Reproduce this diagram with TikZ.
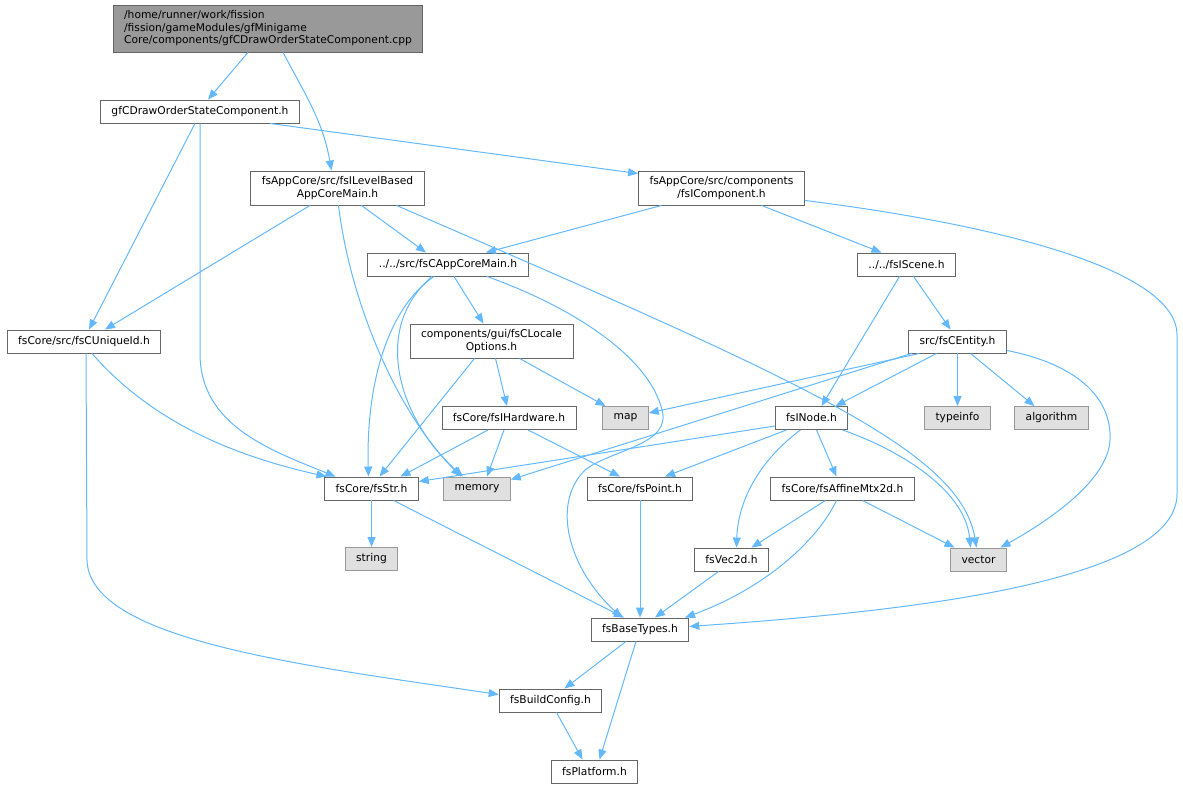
\documentclass[tikz,border=0pt]{standalone}
\usepackage{fontspec}
\setmainfont{DejaVu Sans}
\usetikzlibrary{arrows.meta}
\definecolor{boxline}{HTML}{666666}
\definecolor{rootfill}{HTML}{999999}
\definecolor{sysline}{HTML}{999999}
\definecolor{sysfill}{HTML}{E0E0E0}
\definecolor{deplink}{HTML}{63B8FF}

\begin{document}
\begin{tikzpicture}[
x=1pt, y=-1pt,
file/.style={
  draw=boxline,
  fill=white,
  line width=0.9pt,
  rectangle,
  inner xsep=11pt,
  inner ysep=3pt,
  minimum height=23pt,
  align=center,
  font=\fontsize{10.7}{12.5}\selectfont
  },
main/.style={
  file,
  fill=rootfill,
  align=left,
  minimum height=47pt
  },
sys/.style={
  file,
  draw=sysline,
  fill=sysfill
  },
twoline/.style={
  minimum height=34pt
  },
dep/.style={
  draw=deplink,
  line width=1pt,
  -{Triangle[length=10pt,width=8pt]}
  }
]
\useasboundingbox (0,0) rectangle (1183,788);

\node[main] (root) at (268,28.5) {/home/runner/work/fission\\/fission/gameModules/gfMinigame\\Core/components/gfCDrawOrderStateComponent.cpp};
\node[file] (drawcomp) at (200,111.5) {gfCDrawOrderStateComponent.h};
\node[file,twoline] (levelmain) at (337.5,188) {fsAppCore/src/fsILevelBased\\AppCoreMain.h};
\node[file,twoline] (icomp) at (721.5,188) {fsAppCore/src/components\\/fsIComponent.h};
\node[file] (appmain) at (448,264.5) {../../src/fsCAppCoreMain.h};
\node[file] (iscene) at (906.5,264.5) {../../fsIScene.h};
\node[file] (uniqueid) at (84,341.5) {fsCore/src/fsCUniqueId.h};
\node[file,twoline] (locale) at (491.5,341) {components/gui/fsCLocale\\Options.h};
\node[file] (entity) at (957.5,341.5) {src/fsCEntity.h};
\node[file] (hardware) at (509,418) {fsCore/fsIHardware.h};
\node[sys] (map) at (625.5,418) {map};
\node[file] (inode) at (811.5,418) {fsINode.h};
\node[sys] (typeinfo) at (957.5,418) {typeinfo};
\node[sys] (algorithm) at (1051.5,418) {algorithm};
\node[file] (fsstr) at (371.5,488.5) {fsCore/fsStr.h};
\node[sys] (memory) at (477,488.5) {memory};
\node[file] (fspoint) at (640,488.5) {fsCore/fsPoint.h};
\node[file] (affine) at (842.5,488.5) {fsCore/fsAffineMtx2d.h};
\node[sys] (string) at (371.5,559) {string};
\node[file] (vec2d) at (731.5,559.5) {fsVec2d.h};
\node[sys] (vector) at (978.5,559.5) {vector};
\node[file] (basetypes) at (640,629.5) {fsBaseTypes.h};
\node[file] (buildcfg) at (550.5,700.5) {fsBuildConfig.h};
\node[file] (platform) at (594.5,771.5) {fsPlatform.h};

\draw[dep] ([xshift=-20pt]root.south) -- ([xshift=8pt]drawcomp.north);
\draw[dep] ([xshift=15pt]root.south) to[out=-62,in=100] ([xshift=-6pt]levelmain.north);
\draw[dep] ([xshift=70pt]drawcomp.south) -- ([yshift=-3pt]icomp.north west);
\draw[dep] ([xshift=-5pt]drawcomp.south) -- ([xshift=5pt]uniqueid.north);
\draw[dep] (drawcomp.south) -- ++(0,230) to[out=-90,in=158] ([xshift=-36pt]fsstr.north);
\draw[dep] ([xshift=-27.5pt]levelmain.south) -- ([xshift=21pt]uniqueid.north);
\draw[dep] ([xshift=24pt]levelmain.south) -- ([xshift=-22pt]appmain.north);
\draw[dep] ([xshift=1pt]levelmain.south) .. controls (350,300) and (395,410) .. ([xshift=-16pt]memory.north);
\draw[dep] ([xshift=59pt]levelmain.south) .. controls (800,380) and (960,450) .. ([xshift=-2pt]vector.north);
\draw[dep] ([xshift=-60pt]icomp.south) -- ([xshift=38pt]appmain.north);
\draw[dep] ([xshift=40pt]icomp.south) -- ([xshift=-25pt]iscene.north);
\draw[dep] ([yshift=5pt]icomp.south east) .. controls (1000,225) and (1177,270) .. (1177,335)
  -- (1177,494) .. controls (1177,590) and (850,615) .. ([yshift=3pt]basetypes.east);
\draw[dep] ([xshift=6pt]appmain.south) -- ([xshift=-8pt]locale.north);
\draw[dep] ([xshift=-14pt]appmain.south) .. controls (385,310) and (366,390) .. ([xshift=-3pt]fsstr.north);
\draw[dep] ([xshift=-16pt]appmain.south) .. controls (370,330) and (400,420) .. ([xshift=-14pt]memory.north);
\draw[dep] ([xshift=39pt]appmain.south) .. controls (580,310) and (650,360) .. (662,410)
  .. controls (672,445) and (610,450) .. (585,470)
  .. controls (550,505) and (570,570) .. ([xshift=-18pt]basetypes.north);
\draw[dep] ([xshift=7pt]iscene.south) -- ([xshift=-7pt]entity.north);
\draw[dep] ([xshift=-7pt]iscene.south) -- ([xshift=10pt]inode.north);
\draw[dep] ([xshift=8pt]uniqueid.south) .. controls (150,420) and (230,455) .. ([xshift=-45pt]fsstr.north);
\draw[dep] ([xshift=2pt]uniqueid.south) -- ++(1,207) .. controls (90,640) and (300,665) .. ([yshift=6pt]buildcfg.west);
\draw[dep] ([xshift=-17pt]locale.south) -- ([xshift=8pt]fsstr.north);
\draw[dep] ([xshift=4pt]locale.south) -- ([xshift=-2pt]hardware.north);
\draw[dep] ([xshift=28pt]locale.south) -- ([xshift=-20pt]map.north);
\draw[dep] ([xshift=-38pt]entity.south) -- ([yshift=5pt]map.east);
\draw[dep] ([xshift=-46pt]entity.south) -- ([yshift=-3pt]memory.north east);
\draw[dep] ([xshift=-21pt]entity.south) -- ([xshift=24pt]inode.north);
\draw[dep] (entity.south) -- (typeinfo.north);
\draw[dep] ([xshift=13pt]entity.south) -- ([xshift=-17pt]algorithm.north);
\draw[dep] ([yshift=3pt]entity.south east) .. controls (1080,365) and (1112,400) .. (1110,440)
  .. controls (1108,480) and (1050,520) .. ([xshift=22pt]vector.north);
\draw[dep] ([xshift=-21pt]hardware.south) -- ([xshift=29pt]fsstr.north);
\draw[dep] ([xshift=-5pt]hardware.south) -- ([xshift=10pt]memory.north);
\draw[dep] ([xshift=19pt]hardware.south) -- ([xshift=-20pt]fspoint.north);
\draw[dep] ([yshift=-8pt]inode.west) -- ([yshift=7pt]fsstr.east);
\draw[dep] ([xshift=-25pt]inode.south) -- ([xshift=25pt]fspoint.north);
\draw[dep] ([xshift=5pt]inode.south) -- ([xshift=-6pt]affine.north);
\draw[dep] ([xshift=-11pt]inode.south) .. controls (760,460) and (738,500) .. ([xshift=5pt]vec2d.north);
\draw[dep] ([xshift=31pt]inode.south) .. controls (900,450) and (965,490) .. ([xshift=-8pt]vector.north);
\draw[dep] (fsstr.south) -- (string.north);
\draw[dep] ([xshift=22pt]fsstr.south) -- ([xshift=-16pt]basetypes.north);
\draw[dep] (fspoint.south) -- (basetypes.north);
\draw[dep] ([xshift=-17pt]affine.south) -- ([xshift=20pt]vec2d.north);
\draw[dep] ([xshift=20pt]affine.south) -- ([xshift=-24pt]vector.north);
\draw[dep] ([xshift=-6pt]affine.south) .. controls (815,545) and (760,590) .. ([xshift=45pt]basetypes.north);
\draw[dep] ([xshift=-13pt]vec2d.south) -- ([xshift=15pt]basetypes.north);
\draw[dep] ([xshift=-14pt]basetypes.south) -- ([xshift=14pt]buildcfg.north);
\draw[dep] ([xshift=-4pt]basetypes.south) -- ([xshift=5pt]platform.north);
\draw[dep] ([xshift=6pt]buildcfg.south) -- ([xshift=-12pt]platform.north);
\end{tikzpicture}
\end{document}
